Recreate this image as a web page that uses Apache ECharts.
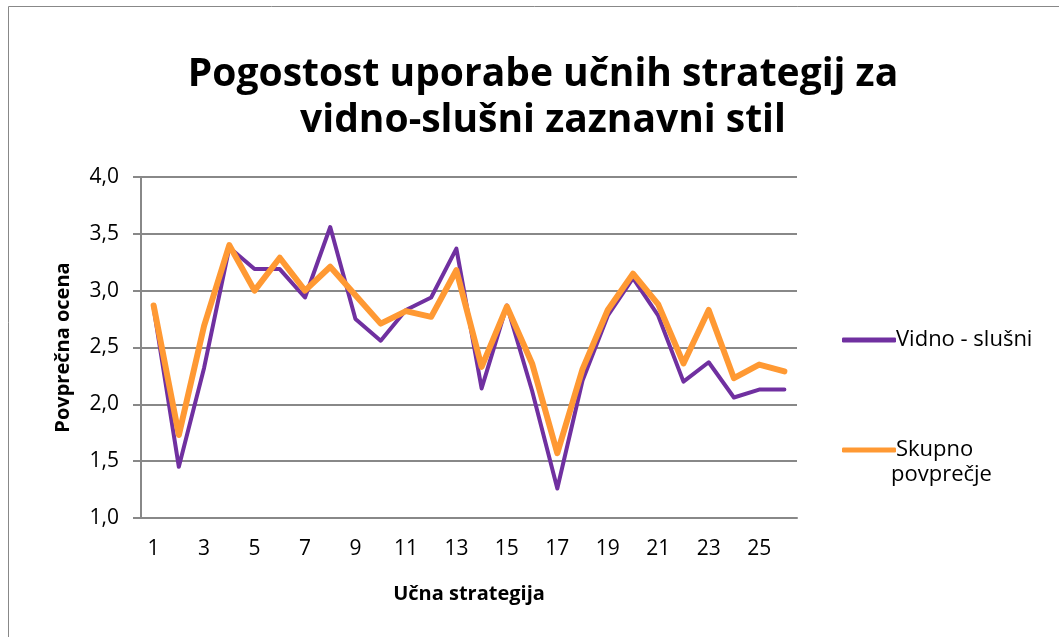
<!DOCTYPE html>
<html>

<head>
    <meta charset="utf-8">
    <title>Pogostost uporabe</title>
    <script src="https://cdn.jsdelivr.net/npm/echarts@6/dist/echarts.min.js"></script>
</head>

<body style="margin:0">
    <div id="main" style="width: 1059px;height:637px;"></div>
    <script type="text/javascript">
        // podatki
        var strategije = ['1', '2', '3', '4', '5', '6', '7', '8', '9', '10', '11', '12', '13',
            '14', '15', '16', '17', '18', '19', '20', '21', '22', '23', '24', '25', '26'];
        var vidnoSlusni = [2.85, 1.45, 2.32, 3.38, 3.19, 3.19, 2.94, 3.56, 2.75, 2.56, 2.83, 2.94, 3.37,
            2.14, 2.87, 2.12, 1.26, 2.21, 2.78, 3.11, 2.78, 2.20, 2.37, 2.06, 2.13, 2.13];
        var skupnoPovprecje = [2.87, 1.73, 2.69, 3.40, 3.00, 3.29, 3.00, 3.21, 2.96, 2.71, 2.82, 2.77, 3.18,
            2.33, 2.86, 2.36, 1.57, 2.31, 2.83, 3.15, 2.88, 2.36, 2.83, 2.23, 2.35, 2.29];
        var yTicks = [1.0, 1.5, 2.0, 2.5, 3.0, 3.5, 4.0];

        var font = 'Open Sans';
        var myChart = echarts.init(document.getElementById('main'));
        var option = {
            backgroundColor: '#fff',
            textStyle: { fontFamily: font },
            title: {
                text: 'Pogostost uporabe učnih strategij za\nvidno-slušni zaznavni stil',
                left: 538,
                top: 47,
                textAlign: 'center',
                textStyle: {
                    fontFamily: font,
                    fontSize: 39,
                    fontWeight: 'bold',
                    color: '#000',
                    lineHeight: 46
                }
            },
            legend: {
                data: ['Vidno - slušni', 'Skupno povprečje'],
                orient: 'vertical',
                left: 837,
                top: 324,
                itemWidth: 54,
                itemHeight: 5,
                itemGap: 88,
                icon: 'roundRect',
                formatter: function (name) {
                    return name === 'Skupno povprečje' ? 'Skupno' : name;
                },
                textStyle: { fontSize: 22, color: '#000', padding: [0, 0, 0, -5] }
            },
            graphic: [{
                type: 'rect',
                shape: { x: 8.5, y: 6.5, width: 1100, height: 700 },
                style: { fill: 'none', stroke: '#888', lineWidth: 1 },
                silent: true
            }, {
                type: 'text',
                left: 891,
                top: 464,
                style: { text: 'povprečje', fontFamily: font, fontSize: 22, fill: '#000' }
            }],
            grid: {
                left: 141,
                right: 262,
                top: 177,
                bottom: 119
            },
            xAxis: {
                type: 'category',
                data: strategije,
                boundaryGap: true,
                name: 'Učna strategija',
                nameLocation: 'middle',
                nameGap: 66,
                nameTextStyle: { fontSize: 20, fontWeight: 'bold', color: '#000' },
                axisLine: { lineStyle: { color: '#888', width: 2 } },
                axisTick: { interval: 0, length: 7, lineStyle: { color: '#888', width: 2 } },
                axisLabel: { interval: 1, fontSize: 21, color: '#000', margin: 21 }
            },
            yAxis: {
                type: 'value',
                min: yTicks[0],
                max: yTicks[yTicks.length - 1],
                interval: 0.5,
                name: 'Povprečna ocena',
                nameLocation: 'middle',
                nameGap: 68,
                nameTextStyle: { fontSize: 20, fontWeight: 'bold', color: '#000' },
                axisLine: { show: true, lineStyle: { color: '#888', width: 2 } },
                axisTick: { show: true, length: 8, lineStyle: { color: '#888', width: 2 } },
                axisLabel: {
                    fontSize: 21,
                    color: '#000',
                    margin: 22,
                    formatter: function (v) { return v.toFixed(1).replace('.', ','); }
                },
                splitLine: { lineStyle: { color: '#888', width: 2 } }
            },
            series: [{
                name: 'Vidno - slušni',
                type: 'line',
                data: vidnoSlusni,
                symbol: 'none',
                color: '#7030A0',
                lineStyle: { width: 4, color: '#7030A0', cap: 'round', join: 'round' }
            }, {
                name: 'Skupno povprečje',
                type: 'line',
                data: skupnoPovprecje,
                symbol: 'none',
                color: '#FF9933',
                lineStyle: { width: 6, color: '#FF9933', cap: 'round', join: 'round' }
            }]
        };

        myChart.setOption(option);
    </script>
</body>

</html>
